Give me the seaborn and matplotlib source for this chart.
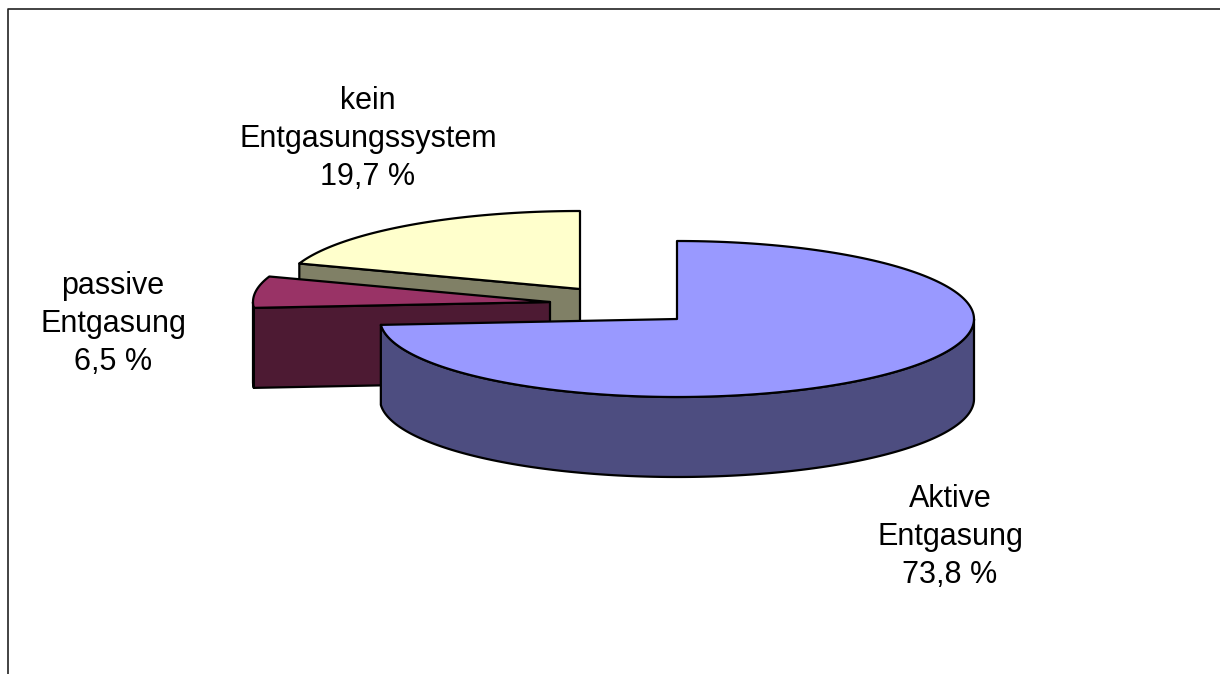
import numpy as np
import matplotlib.pyplot as plt
import seaborn as sns

labels = ['Aktive\nEntgasung\n73,8 %', 'passive\nEntgasung\n6,5 %', 'kein\nEntgasungssystem\n19,7 %']
values = [73.8, 6.5, 19.7]
top_colors = ['#9999ff', '#993366', '#ffffcc']
side_colors = ['#4d4d80', '#4d1a33', '#808066']

# exploded slice centres, pie radii and height, in pixels
centers = [(677, 319), (550, 302), (580, 289)]
label_pos = [(950, 537), (113, 324), (368, 139)]
rx, ry = 297, 78
depth = 80
edge = dict(edgecolor='black', linewidth=1.6, joinstyle='round')

sns.set_theme(style='white')
plt.rcParams['font.family'] = ['Liberation Sans', 'DejaVu Sans']

fig = plt.figure(figsize=(12.2, 6.74), dpi=100)
ax = fig.add_axes([0, 0, 1, 1])
ax.set_xlim(0, 1220)
ax.set_ylim(674, 0)
ax.axis('off')

# page frame
ax.plot([8, 8, 1220], [674, 9, 9], color='#222222', lw=1.2)


def arc(c, a0, a1):
    t = np.radians(np.linspace(a0, a1, 200))
    return c[0] + rx * np.sin(t), c[1] - ry * np.cos(t)


def draw_slice(i, a0, a1):
    c = centers[i]
    x, y = arc(c, a0, a1)
    # cut faces, only those turned to the viewer
    if 180 < a0 < 360:
        ax.fill([c[0], x[0], x[0], c[0]], [c[1], y[0], y[0] + depth, c[1] + depth],
                facecolor=side_colors[i], **edge)
    if 0 < a1 < 180:
        ax.fill([c[0], x[-1], x[-1], c[0]], [c[1], y[-1], y[-1] + depth, c[1] + depth],
                facecolor=side_colors[i], **edge)
    # rim, only the part facing the viewer
    t0, t1 = max(a0, 90), min(a1, 270)
    if t1 > t0:
        rim_x, rim_y = arc(c, t0, t1)
        ax.fill(np.r_[rim_x, rim_x[::-1]], np.r_[rim_y, rim_y[::-1] + depth],
                facecolor=side_colors[i], **edge)
    ax.fill(np.r_[c[0], x], np.r_[c[1], y], facecolor=top_colors[i], **edge)


angles = np.r_[0, np.cumsum(values)] / 100 * 360
for i in [2, 1, 0]:
    draw_slice(i, angles[i], angles[i + 1])

for text, pos in zip(labels, label_pos):
    ax.text(pos[0], pos[1], text, ha='center', va='center', fontsize=22,
            color='black', linespacing=1.35)

fig.savefig('out.png', dpi=100)
